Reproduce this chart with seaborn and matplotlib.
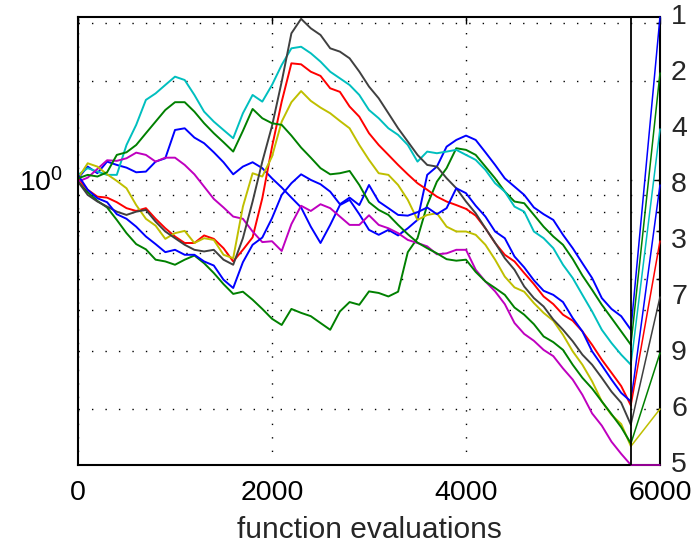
import matplotlib
matplotlib.use("Agg")
import matplotlib.pyplot as plt
import matplotlib.transforms as mtransforms
from matplotlib.ticker import NullFormatter
import numpy as np
import pandas as pd
import seaborn as sns

# ---------------- data ----------------
evals = list(range(0, 5800, 100))

coord1 = [1.011, 1.098, 1.048, 1.137, 1.111, 1.090, 1.055, 1.060, 1.137, 1.164,
          1.420, 1.437, 1.346, 1.294, 1.214, 1.132, 1.040, 1.098, 1.132, 1.086,
          1.011, 0.948, 0.883, 0.824, 0.720, 0.642, 0.729, 0.838, 0.869, 0.786,
          0.704, 0.680, 0.704, 0.677, 0.712, 0.755, 1.036, 1.098, 1.263, 1.324,
          1.365, 1.324, 1.214, 1.111, 1.011, 0.954, 0.900, 0.824, 0.786, 0.755,
          0.680, 0.619, 0.557, 0.502, 0.436, 0.404, 0.384, 0.349]
coord2 = [0.988, 0.917, 0.863, 0.824, 0.755, 0.688, 0.637, 0.614, 0.571, 0.564,
          0.551, 0.571, 0.588, 0.557, 0.520, 0.481, 0.449, 0.456, 0.431, 0.404,
          0.377, 0.361, 0.404, 0.393, 0.384, 0.366, 0.349, 0.397, 0.424, 0.416,
          0.457, 0.452, 0.441, 0.456, 0.602, 0.664, 0.838, 0.988, 1.086, 1.249,
          1.235, 1.192, 1.098, 1.011, 0.921, 0.859, 0.849, 0.782, 0.720, 0.672,
          0.634, 0.574, 0.511, 0.462, 0.416, 0.379, 0.345, 0.314]
coord3 = [1.011, 0.933, 0.889, 0.883, 0.855, 0.820, 0.804, 0.820, 0.761, 0.712,
          0.672, 0.642, 0.642, 0.677, 0.661, 0.619, 0.564, 0.612, 0.668, 0.879,
          1.260, 1.733, 2.268, 2.252, 2.138, 2.076, 1.903, 1.856, 1.674, 1.559,
          1.388, 1.278, 1.192, 1.111, 1.040, 0.977, 0.933, 0.889, 0.859, 0.838,
          0.816, 0.778, 0.712, 0.642, 0.591, 0.564, 0.520, 0.481, 0.441, 0.418,
          0.388, 0.372, 0.345, 0.314, 0.283, 0.258, 0.235, 0.205]
coord4 = [1.036, 1.086, 1.060, 1.036, 1.036, 1.278, 1.472, 1.754, 1.836, 1.948,
          2.065, 2.017, 1.816, 1.615, 1.506, 1.420, 1.340, 1.597, 1.816, 1.733,
          1.948, 2.242, 2.520, 2.548, 2.434, 2.295, 2.138, 2.041, 1.948, 1.816,
          1.634, 1.542, 1.437, 1.372, 1.278, 1.137, 1.220, 1.206, 1.220, 1.235,
          1.192, 1.151, 1.073, 0.977, 0.921, 0.829, 0.800, 0.696, 0.664, 0.619,
          0.551, 0.502, 0.446, 0.397, 0.349, 0.318, 0.293, 0.273]
coord5 = [0.988, 1.016, 1.080, 1.148, 1.143, 1.164, 1.211, 1.192, 1.137, 1.169,
          1.169, 1.111, 1.040, 0.954, 0.875, 0.824, 0.773, 0.761, 0.696, 0.646,
          0.650, 0.607, 0.733, 0.834, 0.804, 0.843, 0.820, 0.773, 0.729, 0.729,
          0.780, 0.729, 0.712, 0.688, 0.656, 0.642, 0.627, 0.593, 0.597, 0.612,
          0.612, 0.532, 0.490, 0.457, 0.418, 0.366, 0.339, 0.323, 0.303, 0.290,
          0.266, 0.246, 0.221, 0.194, 0.178, 0.159, 0.146, 0.135]
coord6 = [1.011, 1.124, 1.098, 1.040, 0.993, 0.943, 0.838, 0.761, 0.725, 0.661,
          0.688, 0.699, 0.642, 0.664, 0.656, 0.591, 0.577, 0.829, 1.048, 1.024,
          1.178, 1.506, 1.726, 1.866, 1.742, 1.662, 1.597, 1.513, 1.437, 1.278,
          1.151, 1.048, 1.036, 0.965, 0.869, 0.755, 0.782, 0.791, 0.720, 0.696,
          0.696, 0.680, 0.634, 0.571, 0.507, 0.470, 0.456, 0.421, 0.393, 0.372,
          0.337, 0.300, 0.273, 0.243, 0.211, 0.192, 0.180, 0.154]
coord7 = [0.988, 0.900, 0.859, 0.829, 0.800, 0.782, 0.800, 0.810, 0.746, 0.696,
          0.664, 0.634, 0.612, 0.605, 0.612, 0.571, 0.551, 0.664, 0.859, 1.137,
          1.460, 1.994, 2.800, 3.100, 2.900, 2.768, 2.520, 2.462, 2.349, 2.140,
          1.926, 1.774, 1.597, 1.437, 1.309, 1.192, 1.111, 1.098, 1.012, 0.943,
          0.859, 0.791, 0.712, 0.643, 0.577, 0.532, 0.473, 0.436, 0.411, 0.375,
          0.349, 0.322, 0.293, 0.273, 0.249, 0.226, 0.209, 0.179]
coord8 = [1.036, 0.933, 0.879, 0.855, 0.786, 0.761, 0.720, 0.672, 0.637, 0.602,
          0.612, 0.591, 0.591, 0.564, 0.548, 0.496, 0.468, 0.561, 0.634, 0.667,
          0.764, 0.900, 0.977, 1.040, 1.000, 0.970, 0.921, 0.843, 0.883, 0.838,
          0.965, 0.859, 0.820, 0.782, 0.778, 0.797, 0.824, 0.786, 0.820, 0.943,
          0.911, 0.834, 0.773, 0.696, 0.664, 0.584, 0.541, 0.494, 0.459, 0.446,
          0.424, 0.379, 0.345, 0.300, 0.272, 0.246, 0.224, 0.211]
coord9 = [1.011, 1.036, 1.024, 1.055, 1.192, 1.214, 1.278, 1.388, 1.506, 1.634,
          1.726, 1.726, 1.615, 1.489, 1.388, 1.303, 1.220, 1.411, 1.646, 1.542,
          1.489, 1.472, 1.365, 1.255, 1.169, 1.086, 1.040, 1.048, 1.065, 0.965,
          0.855, 0.810, 0.782, 0.729, 0.683, 0.644, 0.619, 0.597, 0.573, 0.567,
          0.571, 0.524, 0.490, 0.468, 0.446, 0.408, 0.388, 0.363, 0.333, 0.320,
          0.303, 0.273, 0.249, 0.231, 0.211, 0.193, 0.176, 0.157]

coord_names = ["1", "2", "3", "4", "5", "6", "7", "8", "9"]
series = [coord1, coord2, coord3, coord4, coord5, coord6, coord7, coord8, coord9]
x_ticks = [0, 2000, 4000, 6000]
x_label = "function evaluations"

# MATLAB-like colour cycle b, g, r, c, m, y, k
palette = {
    "1": (0.0, 0.0, 1.0),
    "2": (0.0, 0.5, 0.0),
    "3": (1.0, 0.0, 0.0),
    "4": (0.0, 0.75, 0.75),
    "5": (0.75, 0.0, 0.75),
    "6": (0.75, 0.75, 0.0),
    "7": (0.25, 0.25, 0.25),
    "8": (0.0, 0.0, 1.0),
    "9": (0.0, 0.5, 0.0),
}

df = pd.DataFrame({
    "evals": np.tile(evals, len(series)),
    "value": np.concatenate(series),
    "coord": np.repeat(coord_names, len(evals)),
})

# ---------------- style ----------------
sns.set_style("white")
plt.rcParams["font.family"] = ["Liberation Sans", "DejaVu Sans"]
FS = 20.5
FS_LABEL = 21.5

fig = plt.figure(figsize=(6.92, 5.43), dpi=100)
ax = fig.add_axes([78 / 692, 1 - 465 / 543, (660 - 78) / 692, (465 - 17) / 543])

sns.lineplot(data=df, x="evals", y="value", hue="coord", palette=palette,
             estimator=None, sort=False, linewidth=1.4, legend=False, ax=ax)

ax.set_yscale("log")
ymin, ymax = 0.135, 3.14
ax.set_xlim(0, 6000)
ax.set_ylim(ymin, ymax)

# vertical separator at the last evaluation
x_last = evals[-1]
ax.axvline(x_last, color="black", lw=1.3, zorder=5)

# connector lines to evenly spaced (log) labels on the right
finals = [s[-1] for s in series]
order = sorted(range(len(series)), key=lambda i: -finals[i])
lmax, lmin = np.log10(ymax), np.log10(ymin)
trans = mtransforms.blended_transform_factory(ax.transAxes, ax.transData)
for rank, i in enumerate(order):
    ylab = 10 ** (lmax - rank * (lmax - lmin) / (len(series) - 1))
    ax.plot([x_last, 6000], [finals[i], ylab], color=palette[coord_names[i]],
            lw=1.1, clip_on=False, zorder=4)
    ax.text(1.019, ylab, coord_names[i], transform=trans, fontsize=FS,
            ha="left", va="center", clip_on=False)

# ticks & grid
ax.set_xticks(x_ticks)
ax.set_xticklabels([str(t) for t in x_ticks])
ax.set_yticks([1.0])
ax.set_yticklabels([r"$\mathregular{10^{0}}$"])
ax.set_yticks([0.2, 0.3, 0.4, 0.5, 0.6, 0.7, 0.8, 0.9, 2, 3], minor=True)
ax.yaxis.set_minor_formatter(NullFormatter())
ax.tick_params(which="both", direction="in", top=True, right=True,
               labelsize=FS, width=1.0, colors="black")
ax.tick_params(which="major", length=5)
ax.tick_params(which="minor", length=3)
ax.tick_params(axis="x", pad=11)
ax.tick_params(axis="y", pad=11)

dots = (0, (1, 8.7))
ax.xaxis.grid(True, which="major", linestyle=dots, color="black", lw=1.0)
ax.yaxis.grid(True, which="both", linestyle=dots, color="black", lw=1.0)

for sp in ax.spines.values():
    sp.set_visible(True)
    sp.set_color("black")
    sp.set_linewidth(1.5)

ax.set_xlabel(x_label, fontsize=FS_LABEL, labelpad=7)
ax.set_ylabel("")

fig.savefig("out.png", dpi=100)
